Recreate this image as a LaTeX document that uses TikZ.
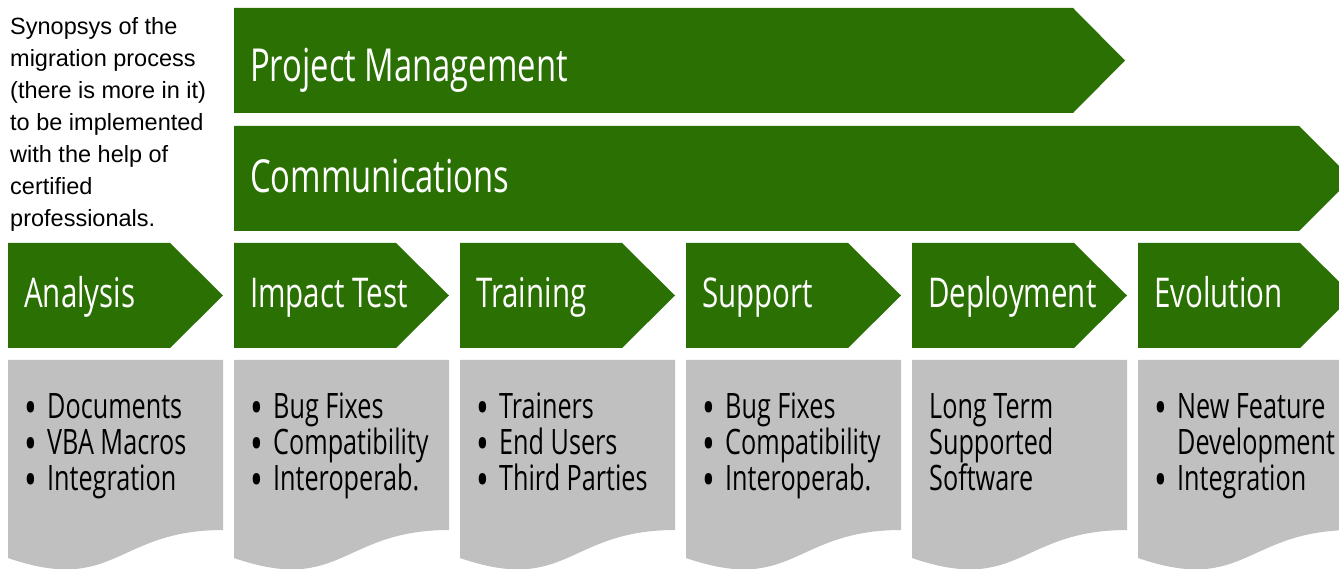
\documentclass[tikz,border=0pt]{standalone}
\usepackage{fontspec}
\setmainfont{Liberation Sans}
\newfontfamily\slidefont[FakeStretch=0.72]{Open Sans}
\definecolor{slidegreen}{HTML}{2A7003}
\definecolor{docgray}{HTML}{C0C0C0}
\newcommand\bul{\makebox[23pt][l]{\smash{\raisebox{-6.5pt}{\scalebox{1.35}{•}}}}}

\begin{document}
\begin{tikzpicture}[x=1pt, y=-1pt]
        \tikzstyle{bar_fill}   = [fill = slidegreen]
        \tikzstyle{doc_fill}   = [fill = docgray]
        \tikzstyle{bar_text}   = [anchor = base west, inner sep = 0pt, text = white, font = \slidefont\fontsize{45.5}{45}\selectfont]
        \tikzstyle{stage_text} = [anchor = base west, inner sep = 0pt, text = white, font = \slidefont\fontsize{41}{41}\selectfont]
        \tikzstyle{list_text}  = [anchor = base west, inner sep = 0pt, align = left, font = \slidefont\fontsize{35}{36}\selectfont]

        \useasboundingbox (0, 0) rectangle (1339, 569);
        \clip (0, 0) rectangle (1339, 569);

        % long bars
        \fill[bar_fill] (234,   8) -- (1073,   8) -- (1125,    60.5) -- (1073, 113) -- (234, 113) -- cycle;
        \fill[bar_fill] (234, 126) -- (1299, 126) -- (1351.5, 178.5) -- (1299, 231) -- (234, 231) -- cycle;

        % stage chevrons
        \fill[bar_fill] (   8, 243) -- ++(162, 0) -- ++(53, 52.5) -- ++(-53, 52.5) -- ++(-162, 0) -- cycle;
        \fill[bar_fill] ( 234, 243) -- ++(162, 0) -- ++(53, 52.5) -- ++(-53, 52.5) -- ++(-162, 0) -- cycle;
        \fill[bar_fill] ( 460, 243) -- ++(162, 0) -- ++(53, 52.5) -- ++(-53, 52.5) -- ++(-162, 0) -- cycle;
        \fill[bar_fill] ( 686, 243) -- ++(162, 0) -- ++(53, 52.5) -- ++(-53, 52.5) -- ++(-162, 0) -- cycle;
        \fill[bar_fill] ( 912, 243) -- ++(162, 0) -- ++(53, 52.5) -- ++(-53, 52.5) -- ++(-162, 0) -- cycle;
        \fill[bar_fill] (1138, 243) -- ++(162, 0) -- ++(53, 52.5) -- ++(-53, 52.5) -- ++(-162, 0) -- cycle;

        % document boxes
        \fill[doc_fill] (   8, 360) -- ( 223, 360) -- ( 223, 530) .. controls ( 115.5, 530) and ( 115.5, 595) .. (   8, 558) -- cycle;
        \fill[doc_fill] ( 234, 360) -- ( 449, 360) -- ( 449, 530) .. controls ( 341.5, 530) and ( 341.5, 595) .. ( 234, 558) -- cycle;
        \fill[doc_fill] ( 460, 360) -- ( 675, 360) -- ( 675, 530) .. controls ( 567.5, 530) and ( 567.5, 595) .. ( 460, 558) -- cycle;
        \fill[doc_fill] ( 686, 360) -- ( 901, 360) -- ( 901, 530) .. controls ( 793.5, 530) and ( 793.5, 595) .. ( 686, 558) -- cycle;
        \fill[doc_fill] ( 912, 360) -- (1127, 360) -- (1127, 530) .. controls (1019.5, 530) and (1019.5, 595) .. ( 912, 558) -- cycle;
        \fill[doc_fill] (1138, 360) -- (1353, 360) -- (1353, 530) .. controls (1245.5, 530) and (1245.5, 595) .. (1138, 558) -- cycle;

        % last baseline of each block
        \node[anchor = base west, inner sep = 0pt, align = left, font = \fontsize{23.5}{32}\selectfont]
          at (10, 227) (synopsis) {Synopsys of the\\migration process\\(there is more in it)\\to be implemented\\with the help of\\certified\\professionals.};

        \node[bar_text]   at ( 250,  82) (pm)   {Project Management};
        \node[bar_text]   at ( 250, 193) (comm) {Communications};

        \node[stage_text] at (  24, 308) (st1) {Analysis};
        \node[stage_text] at ( 250, 308) (st2) {Impact Test};
        \node[stage_text] at ( 476, 308) (st3) {Training};
        \node[stage_text] at ( 702, 308) (st4) {Support};
        \node[stage_text] at ( 928, 308) (st5) {Deployment};
        \node[stage_text] at (1154, 308) (st6) {Evolution};

        \node[list_text]  at (  24, 490) (st1_l) {\bul Documents\\\bul VBA Macros\\\bul Integration};
        \node[list_text]  at ( 250, 490) (st2_l) {\bul Bug Fixes\\\bul Compatibility\\\bul Interoperab.};
        \node[list_text]  at ( 476, 490) (st3_l) {\bul Trainers\\\bul End Users\\\bul Third Parties};
        \node[list_text]  at ( 702, 490) (st4_l) {\bul Bug Fixes\\\bul Compatibility\\\bul Interoperab.};
        \node[list_text]  at ( 929, 490) (st5_l) {Long Term\\Supported\\Software};
        \node[list_text]  at (1154, 490) (st6_l) {\bul New Feature\\\phantom{\bul}Development\\\bul Integration};
      \end{tikzpicture}
\end{document}
